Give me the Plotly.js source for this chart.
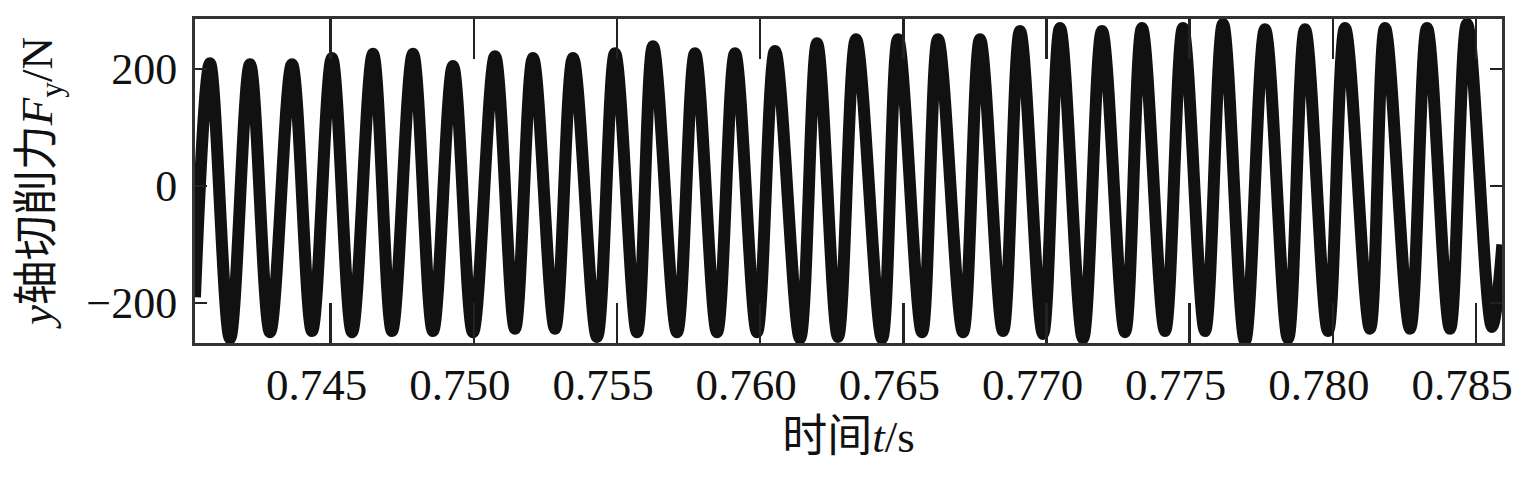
<!DOCTYPE html>
<html>
<head>
<meta charset="utf-8">
<script src="https://cdn.plot.ly/plotly-3.0.1.min.js"></script>
<style>html,body{margin:0;padding:0;background:#fff;}#chart{width:1540px;height:478px;}</style>
</head>
<body>
<div id="chart"></div>
<script>
// Extremes of the y cutting-force signal (time in s, force in N)
const startTime = [0.74026];
const startForce = [-190];
const peakTime = [0.740784,0.742181,0.743648,0.745045,0.746477,0.747874,0.749271,0.750738,0.752066,0.753463,0.754929,0.756257,0.757723,0.759121,0.760518,0.761985,0.763347,0.764814,0.766211,0.767677,0.769074,0.770471,0.771938,0.773335,0.774767,0.776164,0.777631,0.779028,0.780425,0.781822,0.783289,0.784686];
const peakForce = [210,208,208,219,226,226,205,222,219,219,227,239,227,227,231,244,251,251,251,251,265,270,265,270,270,277,268,268,270,270,270,277];
const troughTime = [0.741483,0.742880,0.744347,0.745744,0.747141,0.748573,0.749970,0.751437,0.752834,0.754301,0.755698,0.757095,0.758492,0.759889,0.761391,0.762718,0.764255,0.765652,0.767084,0.768481,0.769878,0.771275,0.772742,0.774139,0.775536,0.776933,0.778434,0.779831,0.781298,0.782695,0.784092,0.785559];
const troughForce = [-261,-250,-248,-250,-248,-248,-250,-244,-244,-258,-250,-250,-250,-250,-261,-258,-261,-250,-250,-248,-253,-261,-250,-248,-248,-265,-261,-248,-244,-244,-244,-241];
const endTime = [0.78592];
const endForce = [-100];

const xTickVals = [0.745,0.750,0.755,0.760,0.765,0.770,0.775,0.780,0.785];
const xTickText = ["0.745","0.750","0.755","0.760","0.765","0.770","0.775","0.780","0.785"];
const yTickVals = [-200,0,200];
const yTickText = ["\u2212200","0","200"];

// Build the ordered sequence start, peak, trough, peak, ... end
const xs = [], ys = [];
xs.push(startTime[0]); ys.push(startForce[0]);
for (let i = 0; i < peakTime.length; i++) {
  xs.push(peakTime[i]); ys.push(peakForce[i]);
  xs.push(troughTime[i]); ys.push(troughForce[i]);
}
xs.push(endTime[0]); ys.push(endForce[0]);

const serif = 'Liberation Serif, "Times New Roman", "Noto Sans CJK SC", serif';

const trace = {
  x: xs, y: ys, type: 'scatter', mode: 'lines',
  line: {color: '#111111', width: 12, shape: 'spline', smoothing: 1},
  hoverinfo: 'skip'
};

const layout = {
  width: 1540, height: 478,
  margin: {l: 195, r: 38, t: 19, b: 135, pad: 0},
  paper_bgcolor: '#ffffff', plot_bgcolor: '#ffffff',
  showlegend: false,
  font: {family: serif, color: '#111', size: 40},
  xaxis: {
    range: [0.740261, 0.785908],
    tickmode: 'array', tickvals: xTickVals, ticktext: xTickText,
    ticks: 'inside', ticklen: 40, tickwidth: 2.5, tickcolor: '#222',
    showline: true, linecolor: '#333', linewidth: 3, mirror: 'ticks',
    showgrid: false, zeroline: false,
    tickfont: {family: serif, size: 45, color: '#111'},
    ticklabelshift: -14, ticklabelstandoff: 0,
    title: {text: '时间<i>t</i>/s', font: {family: serif, size: 45, color: '#111'}, standoff: 12},
    automargin: false
  },
  yaxis: {
    range: [-268.4, 285.5],
    tickmode: 'array', tickvals: yTickVals, ticktext: yTickText,
    ticks: 'inside', ticklen: 12, tickwidth: 2.5, tickcolor: '#222',
    showline: true, linecolor: '#333', linewidth: 3, mirror: 'ticks',
    showgrid: false, zeroline: false,
    tickfont: {family: serif, size: 44, color: '#111'},
    ticklabelstandoff: 6,
    title: {text: '<i>y</i>轴切削力<i>F</i><sub>y</sub>/N', font: {family: serif, size: 45, color: '#111'}, standoff: 20},
    automargin: false
  }
};

Plotly.newPlot('chart', [trace], layout, {staticPlot: true, displayModeBar: false});
</script>
</body>
</html>
